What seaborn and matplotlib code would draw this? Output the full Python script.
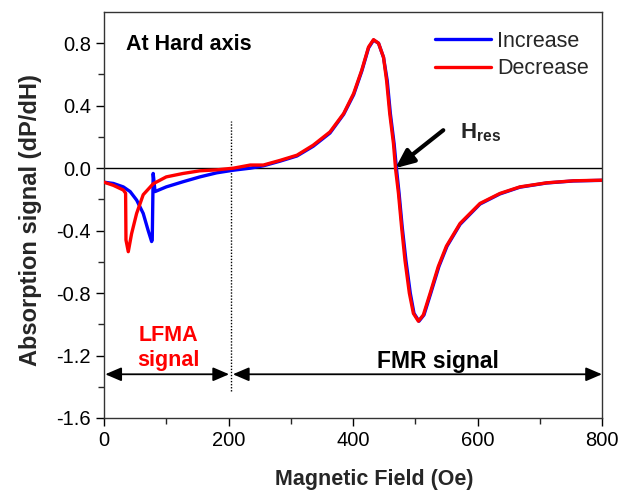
import matplotlib
matplotlib.use("Agg")
import matplotlib.pyplot as plt
import seaborn as sns
import pandas as pd

# Field sweep "Increase" (blue)
field_inc = [0, 15, 31, 42, 52.5, 63, 71, 76.5, 77.5, 79, 82, 100, 127, 154, 181, 208, 235,
             256, 283, 310, 336, 363, 385, 401, 414, 425, 433, 441, 449, 455, 460, 466, 470,
             474, 479, 485, 492, 498, 506, 514, 525, 538, 551, 572, 604, 636, 668, 711, 754, 800]
signal_inc = [-0.09, -0.098, -0.12, -0.15, -0.205, -0.29, -0.40, -0.47, -0.46, -0.034, -0.15, -0.12,
              -0.087, -0.056, -0.03, -0.013, 0.0,
              0.015, 0.045, 0.078, 0.14, 0.225, 0.345, 0.47, 0.62, 0.77, 0.82, 0.80, 0.71, 0.56,
              0.35, 0.158, -0.01, -0.16, -0.375, -0.59, -0.80, -0.93, -0.98, -0.94, -0.80, -0.63,
              -0.50, -0.36, -0.23, -0.165, -0.122, -0.095, -0.082, -0.078]

# Field sweep "Decrease" (red)
field_dec = [0, 15, 31, 34.7, 35.3, 39, 44.3, 52.4, 63, 79, 100, 127, 154, 181, 208, 235,
             256, 283, 310, 336, 363, 385, 401, 414, 425, 433, 441, 449, 454, 459, 465, 468.5,
             473, 478, 483.5, 490.5, 497, 505, 513, 524, 537, 550, 572, 604, 636, 668, 711, 754, 800]
signal_dec = [-0.09, -0.11, -0.14, -0.16, -0.46, -0.535, -0.42, -0.29, -0.17, -0.10, -0.056, -0.034,
              -0.017, -0.011, 0.0, 0.02,
              0.02, 0.05, 0.083, 0.147, 0.232, 0.35, 0.478, 0.627, 0.776, 0.823, 0.80, 0.71, 0.56,
              0.35, 0.158, -0.01, -0.16, -0.375, -0.59, -0.80, -0.93, -0.98, -0.94, -0.80, -0.63,
              -0.50, -0.354, -0.226, -0.162, -0.12, -0.094, -0.081, -0.077]

x_ticks = [0, 200, 400, 600, 800]
y_ticks = [-1.6, -1.2, -0.8, -0.4, 0.0, 0.4, 0.8]

sns.set_style("ticks")
plt.rcParams['font.family'] = ['Liberation Sans', 'DejaVu Sans']
plt.rcParams['mathtext.fontset'] = 'custom'
plt.rcParams['mathtext.bf'] = 'Liberation Sans:bold'
plt.rcParams['mathtext.rm'] = 'Liberation Sans'

fig = plt.figure(figsize=(6.33, 4.92), dpi=100)
ax = fig.add_axes([104/633, 1-418/492, (602-104)/633, (418-12)/492])

df_inc = pd.DataFrame({"field": field_inc, "signal": signal_inc})
df_dec = pd.DataFrame({"field": field_dec, "signal": signal_dec})

ax.axhline(0, color="black", lw=1.0, zorder=1)
sns.lineplot(data=df_inc, x="field", y="signal", ax=ax, color="#0000ff", lw=2.4,
             sort=False, estimator=None, label="Increase", zorder=2)
sns.lineplot(data=df_dec, x="field", y="signal", ax=ax, color="#ff0000", lw=2.4,
             sort=False, estimator=None, label="Decrease", zorder=3)

ax.set_xlim(0, 800)
ax.set_ylim(-1.6, 1.0)
ax.set_xticks(x_ticks)
ax.set_yticks(y_ticks)
ax.set_xticklabels([str(v) for v in x_ticks])
ax.set_yticklabels([f"{v:.1f}" for v in y_ticks])
ax.set_xticks([100, 300, 500, 700], minor=True)
ax.set_yticks([-1.4, -1.0, -0.6, -0.2, 0.2, 0.6], minor=True)
ax.tick_params(which="major", direction="out", length=6, width=1, labelsize=14.5, colors="black")
ax.tick_params(which="minor", direction="out", length=4, width=1)
for s in ax.spines.values():
    s.set_linewidth(1.0)
    s.set_color("#333333")

ax.set_xlabel("Magnetic Field (Oe)", fontsize=15.5, fontweight="bold")
ax.xaxis.set_label_coords((374-104)/498, (418-480)/406)
ax.xaxis.label.set_va("center")
ax.set_ylabel("Absorption signal (dP/dH)", fontsize=17, fontweight="bold")
ax.yaxis.set_label_coords((31-104)/498, (418-220)/406)
ax.yaxis.label.set_va("center")

leg = ax.legend(loc="upper right", frameon=False, fontsize=15.5, handlelength=2.6,
                borderaxespad=0.2, labelspacing=0.3, handletextpad=0.3,
                bbox_to_anchor=(1.0, 0.985))

# dotted divider
ax.plot([204, 204], [-1.43, 0.3], color="black", lw=1.0, ls=(0, (1, 1.2)), zorder=1)

# range arrows
arrow_kw = dict(arrowstyle="<|-|>,head_length=0.7,head_width=0.3", color="black", lw=1.3,
                shrinkA=0, shrinkB=0, mutation_scale=14)
ax.annotate("", xy=(2, -1.32), xytext=(201, -1.32), arrowprops=arrow_kw)
ax.annotate("", xy=(207, -1.32), xytext=(800, -1.32), arrowprops=arrow_kw)

ax.text(103, -1.15, "LFMA\nsignal", color="#ff0000", fontsize=15.5, fontweight="bold",
        ha="center", va="center", linespacing=1.25)
ax.text(536, -1.235, "FMR signal", color="black", fontsize=16.5, fontweight="bold",
        ha="center", va="center")
ax.text(35, 0.79, "At Hard axis", color="black", fontsize=15.5, fontweight="bold",
        ha="left", va="center")

ax.annotate("", xy=(468, 0.0), xytext=(545, 0.243),
            arrowprops=dict(arrowstyle="-|>,head_length=0.8,head_width=0.35", color="black",
                            lw=3, shrinkA=0, shrinkB=0, mutation_scale=14))
ax.text(572, 0.23, r"$\mathbf{H_{res}}$", fontsize=16, ha="left", va="center")

fig.savefig("out.png", dpi=100)
